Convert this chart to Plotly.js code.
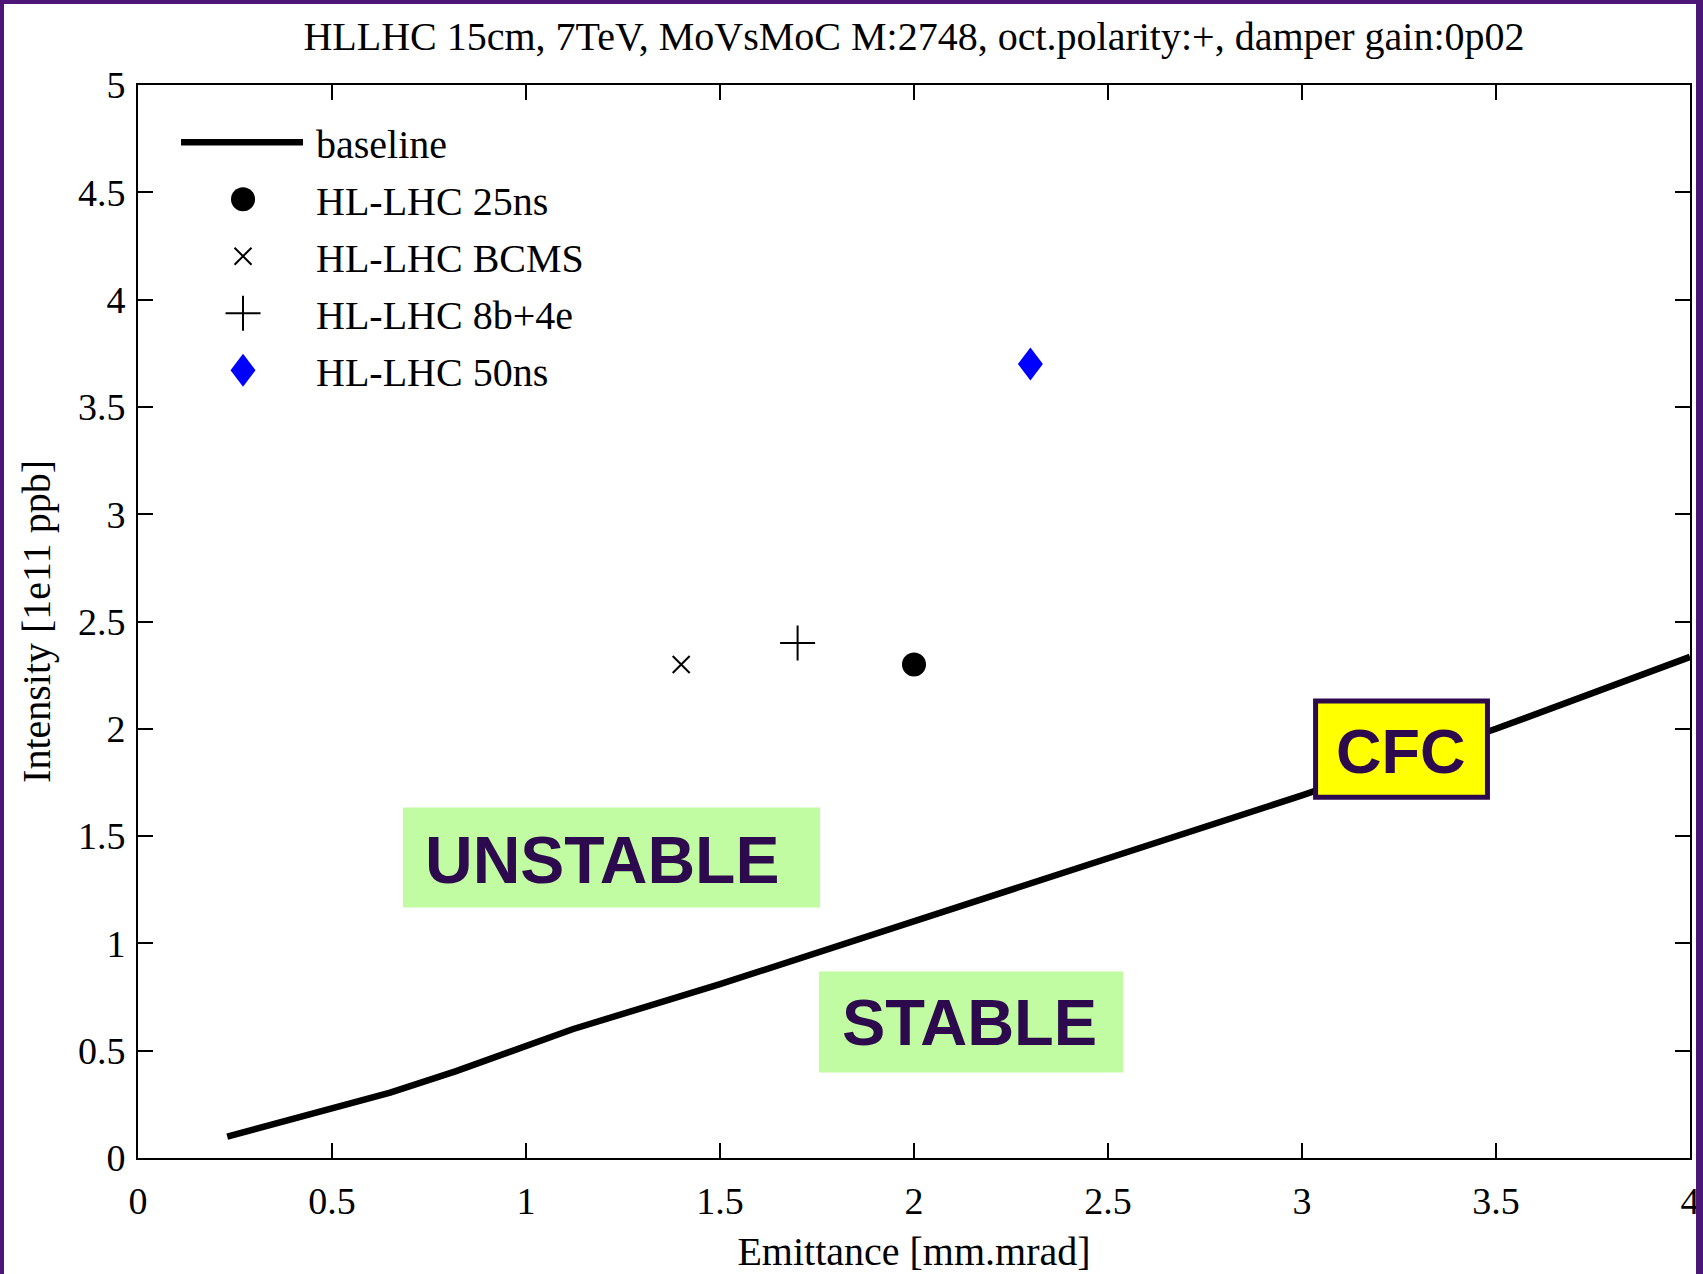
<!DOCTYPE html>
<html>
<head>
<meta charset="utf-8">
<script src="https://cdn.plot.ly/plotly-3.0.1.min.js"></script>
<style>
  html, body { margin: 0; padding: 0; background: #ffffff; }
  #wrap { position: relative; width: 1703px; height: 1274px; overflow: hidden; }
  #chart { position: absolute; left: 0; top: 0; width: 1703px; height: 1274px; }
  #frame { position: absolute; left: 0; top: 0; width: 1703px; height: 1274px; box-sizing: border-box;
           border-top: 4px solid #4b1678; border-left: 4px solid #4b1678; border-right: 7px solid #4b1678;
           border-bottom: 0; pointer-events: none; }
</style>
</head>
<body>
<div id="wrap">
  <div id="chart"></div>
  <div id="frame"></div>
</div>
<script>
// ---- data ----
const baselineEmittance = [0.23, 0.50, 0.65, 0.82, 1.00, 1.12, 1.50, 2.00, 2.50, 3.00, 3.50, 4.00];
const baselineIntensity = [0.10, 0.23, 0.305, 0.405, 0.52, 0.60, 0.81, 1.105, 1.40, 1.69, 2.00, 2.335];

const pointNames = ["HL-LHC 25ns", "HL-LHC BCMS", "HL-LHC 8b+4e", "HL-LHC 50ns"];
const pointEmittance = [2.0, 1.4, 1.7, 2.3];
const pointIntensity = [2.3, 2.3, 2.4, 3.7];

const titleText = "HLLHC 15cm, 7TeV, MoVsMoC M:2748, oct.polarity:+, damper gain:0p02";
const xTitle = "Emittance [mm.mrad]";
const yTitle = "Intensity [1e11 ppb]";
const regionLabels = ["UNSTABLE", "STABLE", "CFC"];

// ---- styling ----
const serif = "Liberation Serif, Times New Roman, serif";
const sans = "Liberation Sans, Arial, sans-serif";
const labelColor = "#2d0a4e";
const greenBg = "#c1fba2";

const markerStyles = [
  {symbol: "circle", size: 24, color: "#000000", line: {width: 0}},
  {symbol: "x-thin", size: 17, color: "#000000", line: {width: 2, color: "#000000"}},
  {symbol: "cross-thin", size: 25, color: "#000000", line: {width: 2, color: "#000000"}},
  {symbol: "diamond", size: 20, color: "#0000ff", line: {width: 0}}
];
// desired on-screen box of the 50ns diamond (width, height) — it is a stretched diamond
const diamondBox = [25, 33];

const traces = [{
  x: baselineEmittance, y: baselineIntensity, type: "scatter", mode: "lines",
  name: "baseline", legendgroup: "g0",
  line: {color: "#000000", width: 6.5}
}];
pointNames.forEach((n, i) => {
  traces.push({
    x: [pointEmittance[i]], y: [pointIntensity[i]], type: "scatter", mode: "markers",
    name: n, legendgroup: "g" + (i + 1),
    marker: markerStyles[i]
  });
});

const layout = {
  width: 1703, height: 1274,
  paper_bgcolor: "#ffffff", plot_bgcolor: "#ffffff",
  margin: {l: 138, r: 13, t: 85, b: 116, pad: 0},
  font: {family: serif, color: "#000000", size: 38},
  title: {text: titleText, font: {family: serif, size: 40, color: "#000000"},
          x: 0.5367, xanchor: "center", y: 1 - 36 / 1274, yanchor: "middle", yref: "container"},
  xaxis: {
    range: [0, 4], dtick: 0.5, tick0: 0, showgrid: false, zeroline: false,
    showline: true, linecolor: "#000000", linewidth: 2, mirror: "ticks",
    ticks: "inside", ticklen: 15, tickwidth: 2, tickcolor: "#000000",
    tickfont: {family: serif, size: 38}, ticklabelstandoff: 8,
    title: {text: xTitle, font: {family: serif, size: 40}, standoff: 22}
  },
  yaxis: {
    range: [0, 5], dtick: 0.5, tick0: 0, showgrid: false, zeroline: false,
    showline: true, linecolor: "#000000", linewidth: 2, mirror: "ticks",
    ticks: "inside", ticklen: 15, tickwidth: 2, tickcolor: "#000000",
    tickfont: {family: serif, size: 38}, ticklabelstandoff: 3,
    title: {text: yTitle, font: {family: serif, size: 40}, standoff: 15}
  },
  showlegend: true,
  legend: {
    x: 0.0245, y: 0.977, xanchor: "left", yanchor: "top",
    bgcolor: "rgba(0,0,0,0)", borderwidth: 0,
    font: {family: serif, size: 40, color: "#000000"},
    itemwidth: 130, tracegroupgap: 2, itemsizing: "trace"
  },
  shapes: [
    {type: "rect", xref: "x", yref: "y", x0: 0.683, x1: 1.758, y0: 1.167, y1: 1.633,
     fillcolor: greenBg, line: {width: 0}, layer: "above"},
    {type: "rect", xref: "x", yref: "y", x0: 1.755, x1: 2.539, y0: 0.398, y1: 0.869,
     fillcolor: greenBg, line: {width: 0}, layer: "above"},
    {type: "rect", xref: "x", yref: "y", x0: 3.035, x1: 3.478, y0: 1.681, y1: 2.129,
     fillcolor: "#ffff00", line: {width: 5, color: labelColor}, layer: "above"}
  ],
  annotations: [
    {text: "<b>" + regionLabels[0] + "</b>", x: 1.196, y: 1.388, xref: "x", yref: "y",
     showarrow: false, font: {family: sans, size: 66, color: labelColor}, xanchor: "center", yanchor: "middle"},
    {text: "<b>" + regionLabels[1] + "</b>", x: 2.143, y: 0.631, xref: "x", yref: "y",
     showarrow: false, font: {family: sans, size: 65, color: labelColor}, xanchor: "center", yanchor: "middle"},
    {text: "<b>" + regionLabels[2] + "</b>", x: 3.253, y: 1.896, xref: "x", yref: "y",
     showarrow: false, font: {family: sans, size: 63, color: labelColor}, xanchor: "center", yanchor: "middle"}
  ]
};

function addTransform(el, dx, sx, sy) {
  const t = el.getAttribute("transform") || "";
  el.setAttribute("transform", t + " translate(" + dx + ",0) scale(" + sx + "," + sy + ")");
  el.style.vectorEffect = "non-scaling-stroke";
  el.setAttribute("vector-effect", "non-scaling-stroke");
}

Plotly.newPlot("chart", traces, layout, {displayModeBar: false, staticPlot: true}).then(gd => {
  const scTraces = gd.querySelectorAll(".scatterlayer .trace");
  const legTraces = gd.querySelectorAll(".legend .traces");
  // stretch the 50ns diamond in the plot
  const dPath = scTraces[4] && scTraces[4].querySelector("path.point");
  if (dPath) {
    const b = dPath.getBBox();
    addTransform(dPath, 0, diamondBox[0] / b.width, diamondBox[1] / b.height);
  }
  // legend symbols drawn at the same size as the plotted markers
  for (let i = 1; i <= 4; i++) {
    const pp = scTraces[i] && scTraces[i].querySelector("path.point");
    const lp = legTraces[i] && legTraces[i].querySelector(".legendpoints path");
    if (!pp || !lp) continue;
    const pb = pp.getBBox(), lb = lp.getBBox();
    let tw = pb.width, th = pb.height;
    if (i === 4) { tw = diamondBox[0]; th = diamondBox[1]; }
    if (lb.width > 0 && lb.height > 0) addTransform(lp, -3, tw / lb.width, th / lb.height);
  }
  // shorten legend line sample
  const ll = legTraces[0] && legTraces[0].querySelector(".legendlines path");
  if (ll) {
    const d = ll.getAttribute("d") || "";
    const m = d.match(/^M([\d.\-]+),([\d.\-]+)h([\d.\-]+)$/);
    if (m) ll.setAttribute("d", "M" + m[1] + "," + m[2] + "h" + (parseFloat(m[3]) - 8));
  }
});
</script>
</body>
</html>
